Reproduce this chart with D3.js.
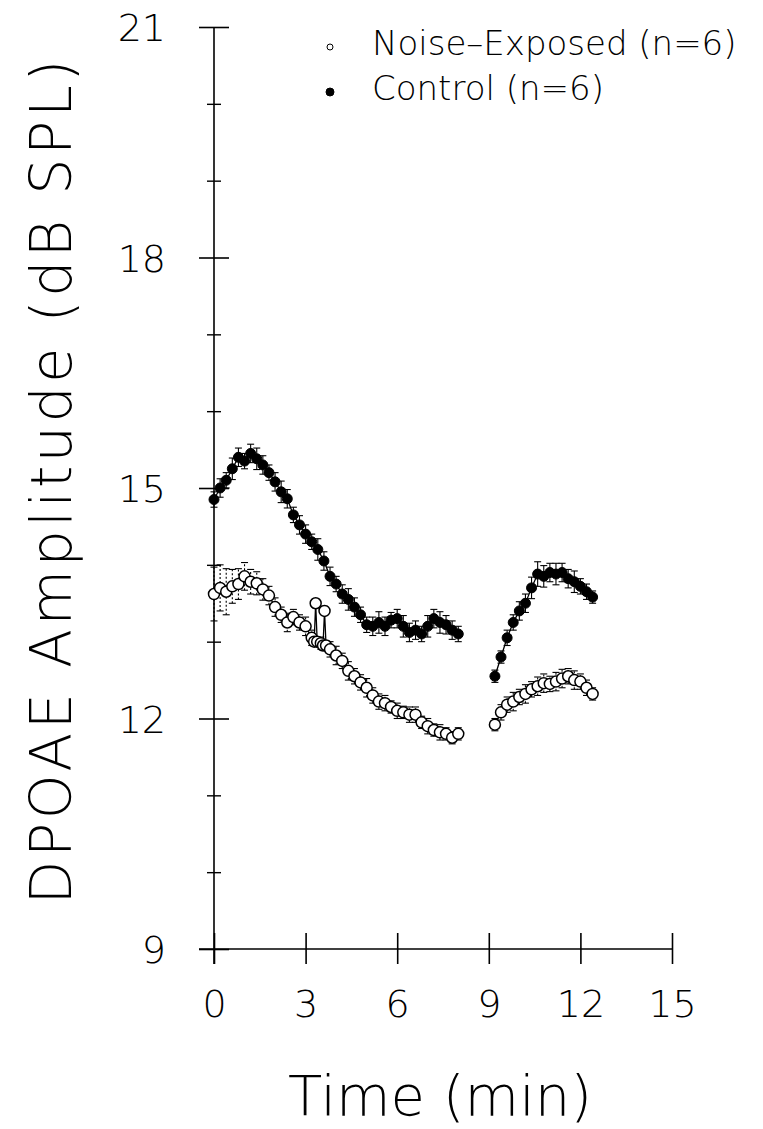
<!DOCTYPE html>
<html>
<head>
<meta charset="utf-8">
<script src="https://cdn.jsdelivr.net/npm/d3@7"></script>
<style>
  body { margin: 0; background: #fff; }
  svg text { font-family: "DejaVu Sans", sans-serif; font-weight: 200; fill: #000; }
</style>
</head>
<body>
<svg id="chart"></svg>
<script>
// time (min) for the two recording blocks
var timeA = [0, 0.2, 0.4, 0.6, 0.8, 1.0, 1.2, 1.4, 1.6, 1.8, 2.0, 2.2, 2.4, 2.6, 2.8, 3.0,
    3.2, 3.4, 3.6, 3.8, 4.0, 4.2, 4.4, 4.6, 4.8, 5.0, 5.2, 5.4, 5.6, 5.8, 6.0, 6.2, 6.4,
    6.6, 6.8, 7.0, 7.2, 7.4, 7.6, 7.8, 8.0];
var timeB = [9.2, 9.4, 9.6, 9.8, 10.0, 10.2, 10.4, 10.6, 10.8, 11.0, 11.2, 11.4, 11.6,
    11.8, 12.0, 12.2, 12.4];
// noise-exposed block A has extra samples around the two spikes
var noiseTimeA = [0, 0.2, 0.4, 0.6, 0.8, 1.0, 1.2, 1.4, 1.6, 1.8, 2.0, 2.2, 2.4, 2.6, 2.8,
    3.0, 3.2, 3.28, 3.33, 3.38, 3.5, 3.57, 3.62, 3.67, 3.8, 4.0, 4.2, 4.4, 4.6, 4.8, 5.0,
    5.2, 5.4, 5.6, 5.8, 6.0, 6.2, 6.4, 6.6, 6.8, 7.0, 7.2, 7.4, 7.6, 7.8, 8.0];

// mean DPOAE amplitude (dB SPL)
var controlA = [14.85, 15.0, 15.1, 15.25, 15.4, 15.35, 15.45, 15.38, 15.3, 15.2, 15.08,
    14.95, 14.86, 14.65, 14.52, 14.4, 14.3, 14.2, 14.05, 13.85, 13.75, 13.62, 13.55, 13.45,
    13.35, 13.22, 13.2, 13.25, 13.2, 13.28, 13.3, 13.2, 13.12, 13.15, 13.1, 13.2, 13.3,
    13.25, 13.22, 13.15, 13.1];
var controlB = [12.55, 12.8, 13.05, 13.25, 13.4, 13.5, 13.7, 13.88, 13.85, 13.9, 13.88,
    13.9, 13.82, 13.78, 13.72, 13.65, 13.58];
var noiseA = [13.62, 13.7, 13.65, 13.72, 13.75, 13.85, 13.78, 13.76, 13.68, 13.6, 13.45,
    13.35, 13.25, 13.32, 13.25, 13.2, 13.05, 13.0, 13.5, 13.0, 12.98, 12.95, 13.4, 12.95,
    12.9, 12.82, 12.75, 12.62, 12.55, 12.47, 12.4, 12.3, 12.22, 12.2, 12.15, 12.1, 12.08,
    12.05, 12.05, 11.95, 11.9, 11.85, 11.82, 11.8, 11.75, 11.8];
var noiseB = [11.92, 12.08, 12.18, 12.22, 12.28, 12.32, 12.38, 12.42, 12.46, 12.45, 12.48,
    12.52, 12.55, 12.5, 12.48, 12.4, 12.32];

// standard error of each mean (dB)
var semControlA = [0.1, 0.12, 0.1, 0.14, 0.12, 0.1, 0.12, 0.14, 0.12, 0.1, 0.12, 0.14,
    0.12, 0.1, 0.12, 0.12, 0.1, 0.14, 0.12, 0.12, 0.1, 0.12, 0.14, 0.12, 0.1, 0.1, 0.12,
    0.14, 0.12, 0.1, 0.12, 0.14, 0.12, 0.12, 0.1, 0.14, 0.12, 0.14, 0.12, 0.12, 0.1];
var semControlB = [0.08, 0.08, 0.1, 0.1, 0.12, 0.12, 0.14, 0.16, 0.14, 0.12, 0.14, 0.12,
    0.12, 0.14, 0.1, 0.1, 0.08];
var semNoiseA = [0.35, 0.3, 0.3, 0.22, 0.2, 0.18, 0.16, 0.15, 0.14, 0.12, 0.12, 0.1, 0.12,
    0.1, 0.1, 0.12, 0.1, 0.06, 0.06, 0.06, 0.08, 0.06, 0.06, 0.06, 0.1, 0.12, 0.1, 0.12,
    0.1, 0.1, 0.12, 0.1, 0.1, 0.1, 0.08, 0.1, 0.08, 0.1, 0.1, 0.08, 0.1, 0.08, 0.1, 0.08,
    0.08, 0.08];
var semNoiseB = [0.08, 0.1, 0.1, 0.12, 0.1, 0.12, 0.1, 0.12, 0.12, 0.1, 0.12, 0.12, 0.1,
    0.12, 0.1, 0.1, 0.08];

var xTicks = [0, 3, 6, 9, 12, 15];
var yTicks = [9, 12, 15, 18, 21];
var yMinor = [10, 11, 13, 14, 16, 17, 19, 20];
var legendLabels = ['Noise\u2013Exposed (n=6)', 'Control (n=6)'];

var W = 763, H = 1129;
var svg = d3.select('#chart').attr('width', W).attr('height', H);

var x = d3.scaleLinear().domain([0, 15]).range([214, 672]);
var y = d3.scaleLinear().domain([9, 21]).range([949, 27]);

function zip(t, v, e) { return t.map(function (d, i) { return { t: d, v: v[i], e: e[i] }; }); }

// y axis with ticks crossing the line
var gy = svg.append('g').attr('transform', 'translate(' + x(0) + ',0)')
    .call(d3.axisLeft(y).tickValues(yTicks).tickSize(0).tickPadding(48).tickFormat(d3.format('d')));
gy.select('.domain').remove();
gy.append('line').attr('y1', y(21)).attr('y2', y(9) + 15).attr('stroke', '#000').attr('stroke-width', 1.6);
gy.selectAll('.tick').append('line').attr('x1', -15).attr('x2', 15).attr('stroke', '#000').attr('stroke-width', 1.6);
gy.selectAll('.tick text').attr('font-size', 38).attr('dy', '0.36em');

var gyMinor = svg.append('g').attr('transform', 'translate(' + x(0) + ',0)')
    .call(d3.axisLeft(y).tickValues(yMinor).tickSize(0).tickFormat(''));
gyMinor.select('.domain').remove();
gyMinor.selectAll('.tick').append('line').attr('x1', -7).attr('x2', 7).attr('stroke', '#000').attr('stroke-width', 1.4);

// x axis
var gx = svg.append('g').attr('transform', 'translate(0,' + y(9) + ')')
    .call(d3.axisBottom(x).tickValues(xTicks).tickSize(0).tickPadding(43).tickFormat(d3.format('d')));
gx.select('.domain').remove();
gx.append('line').attr('x1', x(0) - 15).attr('x2', x(15)).attr('stroke', '#000').attr('stroke-width', 1.6);
gx.selectAll('.tick').append('line').attr('y1', -16).attr('y2', 15).attr('stroke', '#000').attr('stroke-width', 1.6);
gx.selectAll('.tick text').attr('font-size', 38).attr('dy', '0.71em').attr('y', 41);

// axis titles
svg.append('text')
    .attr('transform', 'translate(71,482) rotate(-90)')
    .attr('text-anchor', 'middle').attr('font-size', 57)
    .attr('textLength', 845).attr('lengthAdjust', 'spacing')
    .text('DPOAE Amplitude (dB SPL)');
svg.append('text')
    .attr('x', 440).attr('y', 1115).attr('text-anchor', 'middle').attr('font-size', 56)
    .text('Time (min)');

// series
var line = d3.line().x(function (d) { return x(d.t); }).y(function (d) { return y(d.v); });
var series = [
    { data: [zip(noiseTimeA, noiseA, semNoiseA), zip(timeB, noiseB, semNoiseB)], open: true },
    { data: [zip(timeA, controlA, semControlA), zip(timeB, controlB, semControlB)], open: false }
];

series.forEach(function (s) {
    var g = svg.append('g');
    s.data.forEach(function (seg) {
        // error bars with small caps
        var eb = g.selectAll(null).data(seg).join('g')
            .attr('transform', function (d) { return 'translate(' + x(d.t) + ',0)'; });
        eb.append('line')
            .attr('y1', function (d) { return y(d.v - d.e); })
            .attr('y2', function (d) { return y(d.v + d.e); })
            .attr('stroke', '#000').attr('stroke-width', 1.1)
            .attr('stroke-dasharray', s.open ? '2,2' : null);
        eb.selectAll(null).data(function (d) { return [d.v - d.e, d.v + d.e]; }).join('line')
            .attr('x1', -3.5).attr('x2', 3.5)
            .attr('y1', function (v) { return y(v); }).attr('y2', function (v) { return y(v); })
            .attr('stroke', '#000').attr('stroke-width', 1.1);

        g.append('path').attr('d', line(seg)).attr('fill', 'none')
            .attr('stroke', '#000').attr('stroke-width', 1.3);
        g.selectAll(null).data(seg).join('circle')
            .attr('cx', function (d) { return x(d.t); })
            .attr('cy', function (d) { return y(d.v); })
            .attr('r', s.open ? 5.5 : 5)
            .attr('fill', s.open ? '#fff' : '#000')
            .attr('stroke', '#000').attr('stroke-width', s.open ? 1.5 : 1);
    });
});

// legend
var legend = svg.append('g');
legendLabels.forEach(function (lab, i) {
    var ly = 55 + i * 45;
    legend.append('circle').attr('cx', 330).attr('cy', ly - 8)
        .attr('r', i === 0 ? 3 : 4)
        .attr('fill', i === 0 ? '#fff' : '#000').attr('stroke', '#000').attr('stroke-width', 1);
    legend.append('text').attr('x', 372).attr('y', ly).attr('font-size', 34).text(lab);
});
</script>
</body>
</html>
